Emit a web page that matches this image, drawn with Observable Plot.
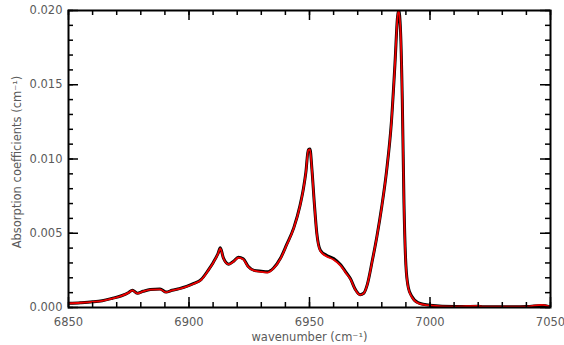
<!DOCTYPE html>
<html>
<head>
<meta charset="utf-8">
<script src="https://cdn.jsdelivr.net/npm/d3@7"></script>
<script src="https://cdn.jsdelivr.net/npm/@observablehq/plot@0.6"></script>
<style>
  html, body { margin: 0; padding: 0; background: #fff; }
  #chart svg { display: block; }
</style>
</head>
<body>
<div id="chart"></div>
<script>
// Wavenumber (cm^-1) sample positions
const wavenumber = [
  6850, 6855, 6860, 6864, 6868, 6872, 6875, 6876.5, 6878.5, 6881,
  6884, 6888, 6890.5, 6893, 6896, 6899, 6902, 6905, 6908, 6910,
  6912, 6913, 6914.3, 6916.5, 6918.5, 6920.5, 6922.5, 6924.5, 6927, 6930,
  6932.5, 6935, 6938, 6940.5, 6943.5, 6946, 6947.5, 6948.5, 6949.5, 6950.2,
  6951, 6952, 6953, 6954.5, 6957, 6960, 6963, 6965, 6967, 6969,
  6971, 6972.5, 6974, 6976, 6978, 6980, 6982, 6984, 6985.5, 6986.5,
  6987, 6987.8, 6988.5, 6989.2, 6990, 6991, 6992.5, 6995, 7000, 7010,
  7020, 7022, 7030, 7040, 7046.5, 7050
];
// Measured absorption (black)
const measured = [
  0.00028, 0.00032, 0.00038, 0.00046, 0.00061, 0.00079, 0.00101, 0.00117, 0.00096, 0.00109,
  0.00121, 0.00125, 0.00104, 0.00116, 0.00127, 0.00142, 0.00162, 0.00188, 0.00252, 0.00302,
  0.00362, 0.00402, 0.00332, 0.00292, 0.00312, 0.00338, 0.00328, 0.00278, 0.00250, 0.00244,
  0.00240, 0.00264, 0.00333, 0.00423, 0.00538, 0.00683, 0.00803, 0.00912, 0.01062, 0.01067,
  0.00932, 0.00702, 0.00504, 0.00386, 0.00352, 0.00330, 0.00286, 0.00240, 0.00193, 0.00122,
  0.00086, 0.00096, 0.00156, 0.00311, 0.00482, 0.00682, 0.00922, 0.01252, 0.01652, 0.01952,
  0.02005, 0.01852, 0.01402, 0.00705, 0.00285, 0.00135, 0.00074, 0.00033, 0.00015, 0.00006,
  0.00009, 0.00005, 0.00005, 0.00006, 0.00014, 0.00004
];
// Model fit (red)
const model = [
  0.00028, 0.00032, 0.00038, 0.00045, 0.00060, 0.00078, 0.00100, 0.00115, 0.00095, 0.00108,
  0.00120, 0.00122, 0.00102, 0.00115, 0.00125, 0.00140, 0.00160, 0.00185, 0.00250, 0.00300,
  0.00360, 0.00398, 0.00330, 0.00290, 0.00310, 0.00335, 0.00325, 0.00275, 0.00248, 0.00240,
  0.00235, 0.00262, 0.00330, 0.00420, 0.00535, 0.00680, 0.00800, 0.00910, 0.01060, 0.01065,
  0.00930, 0.00700, 0.00500, 0.00380, 0.00345, 0.00322, 0.00280, 0.00235, 0.00190, 0.00120,
  0.00085, 0.00095, 0.00155, 0.00310, 0.00480, 0.00680, 0.00920, 0.01250, 0.01650, 0.01950,
  0.02000, 0.01850, 0.01400, 0.00700, 0.00280, 0.00130, 0.00070, 0.00030, 0.00014, 0.00006,
  0.00011, 0.00005, 0.00005, 0.00006, 0.00018, 0.00004
];
const xMajor = [6850, 6900, 6950, 7000, 7050];
const xMinor = d3.range(6850, 7051, 10);
const yMajor = [0, 0.005, 0.010, 0.015, 0.020];
const yMinor = d3.range(0, 21).map(i => i / 1000);
const xLabel = "wavenumber (cm\u207B\u00B9)";
const yLabel = "Absorption coefficients (cm\u207B\u00B9)";

const W = 564, H = 345;
const mL = 68, mR = 14, mT = 10, mB = 38;
const pw = W - mL - mR, ph = H - mT - mB;

const black = wavenumber.map((x, i) => ({x, y: measured[i]}));
const red = wavenumber.map((x, i) => ({x, y: model[i]}));

const font = "DejaVu Sans";
const gray = "#5a5a5a";

const chart = Plot.plot({
  width: W, height: H,
  marginLeft: mL, marginRight: mR, marginTop: mT, marginBottom: mB,
  style: {fontFamily: font, fontSize: "11.5px", background: "#fff"},
  x: {domain: [6850, 7050], axis: null},
  y: {domain: [0, 0.020], axis: null},
  marks: [
    Plot.line(black, {x: "x", y: "y", stroke: "black", strokeWidth: 3, curve: "monotone-x", clip: true}),
    Plot.line(red, {x: "x", y: "y", stroke: "#ee0000", strokeWidth: 1.8, curve: "monotone-x", clip: true}),
    // inward ticks: bottom & top
    Plot.tickX(xMinor, {x: d => d, stroke: "black", strokeWidth: 1.5, insetTop: ph - 5}),
    Plot.tickX(xMajor, {x: d => d, stroke: "black", strokeWidth: 1.5, insetTop: ph - 10}),
    Plot.tickX(xMinor, {x: d => d, stroke: "black", strokeWidth: 1.5, insetBottom: ph - 5}),
    Plot.tickX(xMajor, {x: d => d, stroke: "black", strokeWidth: 1.5, insetBottom: ph - 10}),
    // inward ticks: left & right
    Plot.tickY(yMinor, {y: d => d, stroke: "black", strokeWidth: 1.5, insetRight: pw - 5}),
    Plot.tickY(yMajor, {y: d => d, stroke: "black", strokeWidth: 1.5, insetRight: pw - 10}),
    Plot.tickY(yMinor, {y: d => d, stroke: "black", strokeWidth: 1.5, insetLeft: pw - 5}),
    Plot.tickY(yMajor, {y: d => d, stroke: "black", strokeWidth: 1.5, insetLeft: pw - 10}),
    Plot.frame({stroke: "black", strokeWidth: 2}),
    Plot.axisX({ticks: xMajor, tickSize: 0, tickPadding: 10, fill: gray, label: null, tickFormat: d3.format("d")}),
    Plot.axisY({ticks: yMajor, tickSize: 0, tickPadding: 6, fill: gray, label: null, tickFormat: d3.format(".3f")}),
    Plot.text([xLabel], {frameAnchor: "bottom", dy: 30, lineAnchor: "middle", textAnchor: "middle", fill: gray, text: d => d}),
    Plot.text([yLabel], {frameAnchor: "left", dx: -51, dy: 3, rotate: -90, lineAnchor: "middle", textAnchor: "middle", fill: gray, text: d => d})
  ]
});
document.getElementById("chart").appendChild(chart);
</script>
</body>
</html>
